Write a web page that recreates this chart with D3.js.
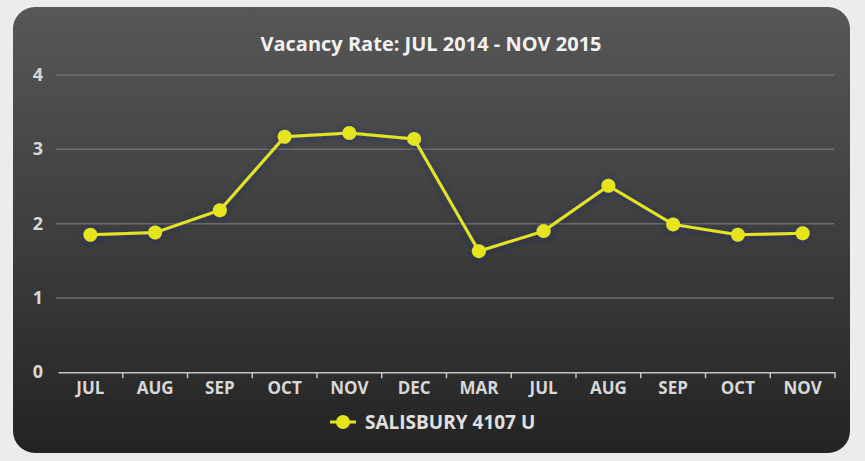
<!DOCTYPE html>
<html>
<head>
<meta charset="utf-8">
<script src="https://cdn.jsdelivr.net/npm/d3@7"></script>
<style>
  body { margin: 0; background: #ececec; }
  text { font-family: "Open Sans", "DejaVu Sans", sans-serif; font-weight: bold; }
</style>
</head>
<body>
<script>
//chart data
var months = ["JUL", "AUG", "SEP", "OCT", "NOV", "DEC", "MAR", "JUL", "AUG", "SEP", "OCT", "NOV"];
var vacancyRate = [1.85, 1.88, 2.18, 3.17, 3.22, 3.14, 1.63, 1.90, 2.51, 1.99, 1.85, 1.87];
var yTicks = [0, 1, 2, 3, 4];
var seriesName = "SALISBURY 4107 U";
var chartTitle = "Vacancy Rate: JUL 2014 - NOV 2015";

window.onload = setChart();

function setChart(){

  var width = 865,
    height = 461;

  var svg = d3.select("body")
    .append("svg")
    .attr("width", width)
    .attr("height", height);

  var defs = svg.append("defs");

  //dark panel gradient
  var grad = defs.append("linearGradient")
    .attr("id", "panelGrad")
    .attr("x1", 0).attr("y1", 0)
    .attr("x2", 0).attr("y2", 1);
  grad.append("stop").attr("offset", "0%").attr("stop-color", "#575757");
  grad.append("stop").attr("offset", "55%").attr("stop-color", "#3c3c3c");
  grad.append("stop").attr("offset", "100%").attr("stop-color", "#232323");

  //bluish glow behind the line
  var glow = defs.append("filter")
    .attr("id", "glow")
    .attr("x", "-10%").attr("y", "-20%")
    .attr("width", "120%").attr("height", "140%");
  glow.append("feDropShadow")
    .attr("dx", 0).attr("dy", 1)
    .attr("stdDeviation", 3)
    .attr("flood-color", "#1c2a6a")
    .attr("flood-opacity", 0.8);

  //rounded panel
  svg.append("rect")
    .attr("x", 13)
    .attr("y", 7)
    .attr("width", 837)
    .attr("height", 446)
    .attr("rx", 22)
    .attr("fill", "url(#panelGrad)");

  var x = d3.scaleBand()
    .domain(d3.range(months.length))
    .range([58, 835]);

  var y = d3.scaleLinear()
    .domain([0, 4])
    .range([372.3, 75]);

  //title
  svg.append("text")
    .attr("x", 431)
    .attr("y", 51)
    .attr("text-anchor", "middle")
    .attr("fill", "#f2f2f2")
    .style("font-size", "20px")
    .text(chartTitle);

  //gridlines
  svg.selectAll(".grid")
    .data(yTicks.filter(function(d){ return d > 0; }))
    .enter()
    .append("line")
    .attr("class", "grid")
    .attr("x1", 56)
    .attr("x2", 834)
    .attr("y1", function(d){ return y(d); })
    .attr("y2", function(d){ return y(d); })
    .attr("stroke", "#6e6e6e")
    .attr("stroke-width", 1.5);

  //y labels
  svg.selectAll(".ylab")
    .data(yTicks)
    .enter()
    .append("text")
    .attr("class", "ylab")
    .attr("x", 38)
    .attr("y", function(d){ return y(d) + 6; })
    .attr("text-anchor", "middle")
    .attr("fill", "#d8d8d8")
    .style("font-size", "18px")
    .text(function(d){ return d; });

  //x axis
  var xAxis = svg.append("g")
    .attr("transform", "translate(0," + y(0) + ")")
    .call(d3.axisBottom(x).tickSize(0).tickPadding(10).tickFormat(function(i){ return months[i]; }));
  xAxis.select(".domain").attr("stroke", "#c4c4c4").attr("stroke-width", 1.5);
  xAxis.selectAll(".tick text")
    .attr("fill", "#d8d8d8")
    .style("font-size", "17px")
    .style("font-family", "'Open Sans', sans-serif")
    .style("font-weight", "bold");

  //separator ticks between categories
  xAxis.selectAll(".sep")
    .data(d3.range(1, months.length + 1))
    .enter()
    .append("line")
    .attr("class", "sep")
    .attr("x1", function(i){ return i < months.length ? x(i) : x.range()[1]; })
    .attr("x2", function(i){ return i < months.length ? x(i) : x.range()[1]; })
    .attr("y1", 0)
    .attr("y2", 6)
    .attr("stroke", "#c4c4c4")
    .attr("stroke-width", 1.5);

  //series line
  var line = d3.line()
    .x(function(d, i){ return x(i) + x.bandwidth() / 2; })
    .y(function(d){ return y(d); });

  var series = svg.append("g").attr("filter", "url(#glow)");

  series.append("path")
    .datum(vacancyRate)
    .attr("d", line)
    .attr("fill", "none")
    .attr("stroke", "#e6e41c")
    .attr("stroke-width", 3);

  series.selectAll(".pt")
    .data(vacancyRate)
    .enter()
    .append("circle")
    .attr("class", "pt")
    .attr("cx", function(d, i){ return x(i) + x.bandwidth() / 2; })
    .attr("cy", function(d){ return y(d); })
    .attr("r", 7)
    .attr("fill", "#e6e41c");

  //legend
  var legend = svg.append("g").attr("transform", "translate(343,422)");
  legend.append("line")
    .attr("x1", -13).attr("x2", 13)
    .attr("stroke", "#e6e41c")
    .attr("stroke-width", 3);
  legend.append("circle")
    .attr("r", 7)
    .attr("fill", "#e6e41c");
  legend.append("text")
    .attr("x", 22)
    .attr("y", 7)
    .attr("fill", "#e0e0e0")
    .style("font-size", "19px")
    .text(seriesName);
}
</script>
</body>
</html>
